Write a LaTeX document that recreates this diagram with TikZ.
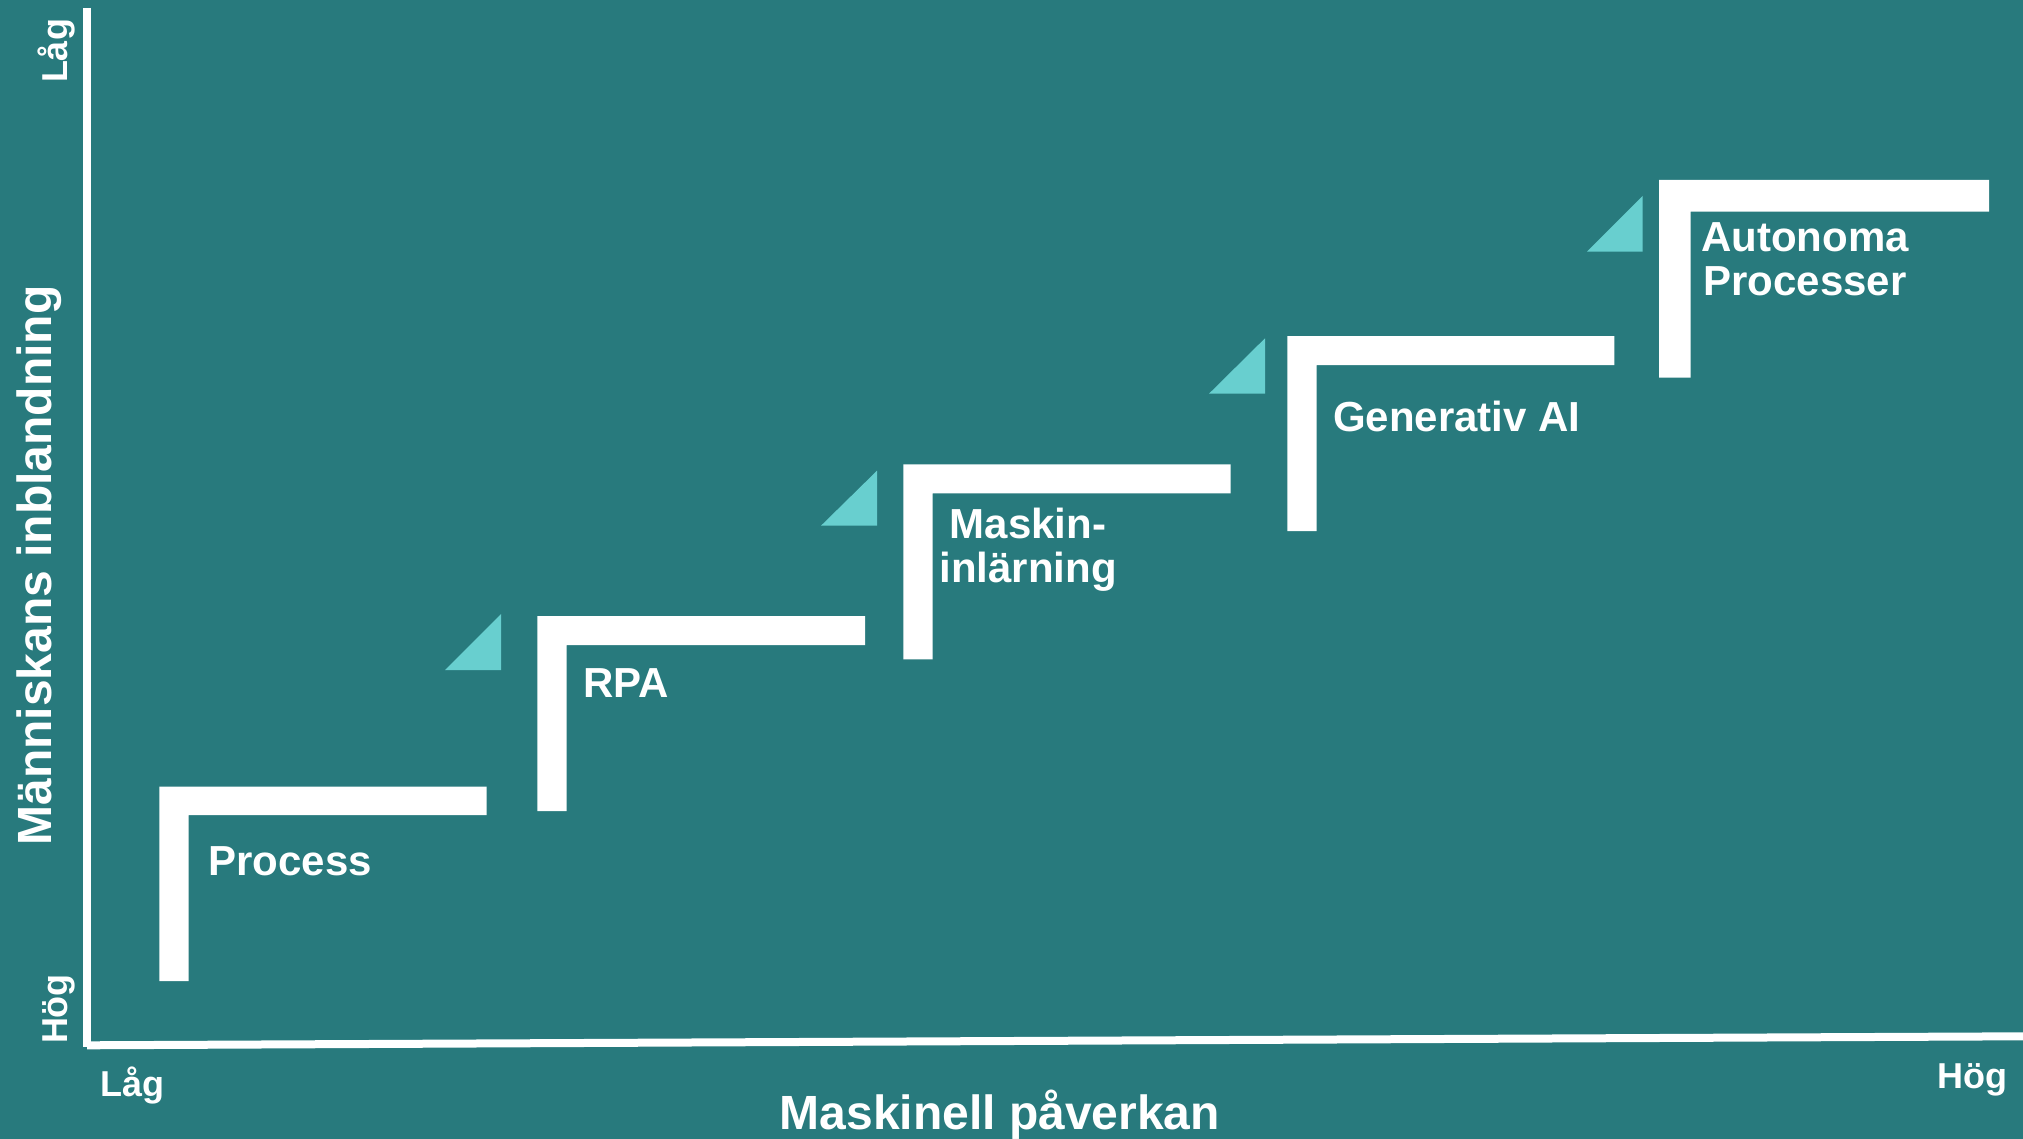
\documentclass[tikz,border=0pt]{standalone}
\usepackage{fontspec}
\setmainfont{Liberation Sans}
\definecolor{tealbg}{RGB}{40,122,125}
\definecolor{mint}{RGB}{104,207,207}

\begin{document}
\begin{tikzpicture}[x=0.5pt,y=-0.5pt,
  bar/.style={fill=white},
  corner/.style={fill=mint},
  axisline/.style={white,line width=4pt},
  steplabel/.style={inner sep=0pt,text=white,align=center,
    font=\fontsize{21}{21.9}\selectfont\bfseries},
  ticklabel/.style={inner sep=0pt,text=white,
    font=\fontsize{18}{18}\selectfont\bfseries},
  axistitle/.style={inner sep=0pt,text=white,
    font=\fontsize{24}{24}\selectfont\bfseries}]
  \fill[tealbg] (0,0) rectangle (2023,1139);
  \useasboundingbox (0,0) rectangle (2023,1139);

  % axes
  \coordinate (top) at (87,8);
  \coordinate (corner) at (87,1047);
  \coordinate (origin) at (87,1045.3);
  \coordinate (end) at (2023,1036.3);
  \draw[axisline] (top) -- (corner);
  \draw[axisline] (origin) -- (end);

  \node[ticklabel,rotate=90,anchor=base] (ylow) at (67,51) {Låg};
  \node[ticklabel,rotate=90,anchor=base] (yhigh) at (67,1009) {Hög};
  \node[axistitle,rotate=90,anchor=base] (ytitle) at (51.5,565.5) {Människans inblandning};
  \node[ticklabel,anchor=base west] (xlow) at (100,1096.7) {Låg};
  \node[ticklabel,anchor=base west] (xhigh) at (1936.7,1088.3) {Hög};
  \node[axistitle,anchor=base west] (xtitle) at (779.3,1129.3) {Maskinell påverkan};

  % steps
  \fill[bar] (159.3,981) -- (159.3,786.7) -- (486.7,786.7) -- (486.7,815)
    -- (188.7,815) -- (188.7,981) -- cycle;
  \fill[bar] (537.3,811) -- (537.3,616) -- (865,616) -- (865,645)
    -- (566.7,645) -- (566.7,811) -- cycle;
  \fill[bar] (903.3,659.3) -- (903.3,464.3) -- (1230.7,464.3) -- (1230.7,493.3)
    -- (932.7,493.3) -- (932.7,659.3) -- cycle;
  \fill[bar] (1287.3,531) -- (1287.3,336) -- (1614.3,336) -- (1614.3,365)
    -- (1316.7,365) -- (1316.7,531) -- cycle;
  \fill[bar] (1659,377.7) -- (1659,180) -- (1989,180) -- (1989,211.7)
    -- (1690.7,211.7) -- (1690.7,377.7) -- cycle;

  % corners
  \fill[corner] (445,670) -- (501,670) -- (501,614) -- cycle;
  \fill[corner] (821,525.7) -- (877,525.7) -- (877,470.7) -- cycle;
  \fill[corner] (1209,393.7) -- (1265,393.7) -- (1265,338.3) -- cycle;
  \fill[corner] (1587,251.7) -- (1642.7,251.7) -- (1642.7,196) -- cycle;

  \node[steplabel,anchor=base west] (process) at (208,875) {Process};
  \node[steplabel,anchor=base west] (rpa) at (583,697) {RPA};
  \node[steplabel,anchor=base] (ml) at (1028,582.7) {Maskin-\\inlärning};
  \node[steplabel,anchor=base west] (genai) at (1332.7,431.7) {Generativ AI};
  \node[steplabel,anchor=base] (auto) at (1805,295) {Autonoma\\Processer};
\end{tikzpicture}
\end{document}
